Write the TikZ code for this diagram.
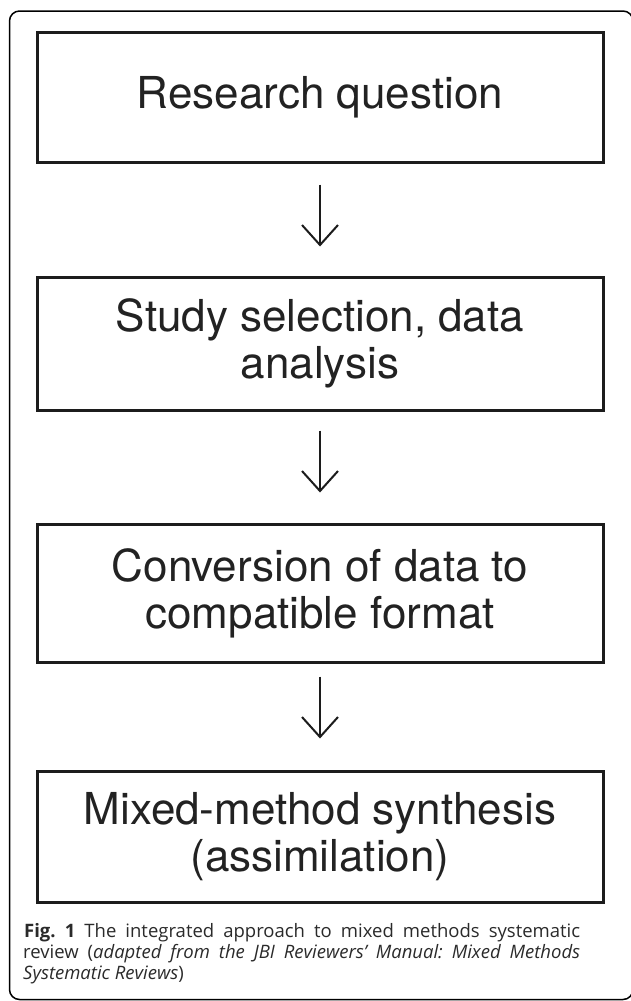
\documentclass[tikz,border=0pt]{standalone}
\usepackage{fontspec}
\setmainfont{TeX Gyre Heros}
\newfontfamily\capfont{Open Sans}
\usetikzlibrary{arrows.meta}
\definecolor{boxline}{HTML}{1C1C1C}
\definecolor{textcol}{HTML}{222222}
\definecolor{capcol}{HTML}{2A2A2A}
\frenchspacing
\begin{document}
\begin{tikzpicture}[x=1pt,y=-1pt,
  frame/.style={draw=black, line width=1.5pt, rounded corners=10pt},
  stepbox/.style={draw=boxline, line width=3pt, minimum width=566pt, inner sep=0pt,
    align=center, text=textcol, font=\fontsize{44}{47}\selectfont},
  flow/.style={draw=boxline, line width=2pt,
    -{Straight Barb[length=20pt,width=36pt,line width=2pt]}},
  capline/.style={anchor=base west, inner sep=0pt, text=capcol,
    font=\capfont\fontsize{18.5}{21}\selectfont}]
\useasboundingbox (0,0) rectangle (630,1001);
\draw[frame] (9.5,11) rectangle (633,999.5);

\node[stepbox, minimum height=130pt] (b1) at (320,97) {Research question};
\node[stepbox, minimum height=133pt] (b2) at (320,343.5) {Study selection, data\\analysis};
\node[stepbox, minimum height=138pt] (b3) at (320,593) {Conversion of data to\\compatible format};
\node[stepbox, minimum height=131pt] (b4) at (320,836.5) {Mixed-method synthesis\\(assimilation)};

\draw[flow] ([yshift=-21pt]b1.south) -- ([yshift=29pt]b2.north);
\draw[flow] ([yshift=-19pt]b2.south) -- ([yshift=30pt]b3.north);
\draw[flow] ([yshift=-13pt]b3.south) -- ([yshift=31pt]b4.north);

\node[capline] (cap1) at (24,937) {\makebox[556pt][s]{\textbf{Fig. 1} The integrated approach to mixed methods systematic}};
\node[capline] (cap2) at (23,958) {\makebox[557pt][s]{review (\textit{adapted from the JBI Reviewers’ Manual: Mixed Methods}}};
\node[capline] (cap3) at (23,979) {\textit{Systematic Reviews})};
\end{tikzpicture}
\end{document}
